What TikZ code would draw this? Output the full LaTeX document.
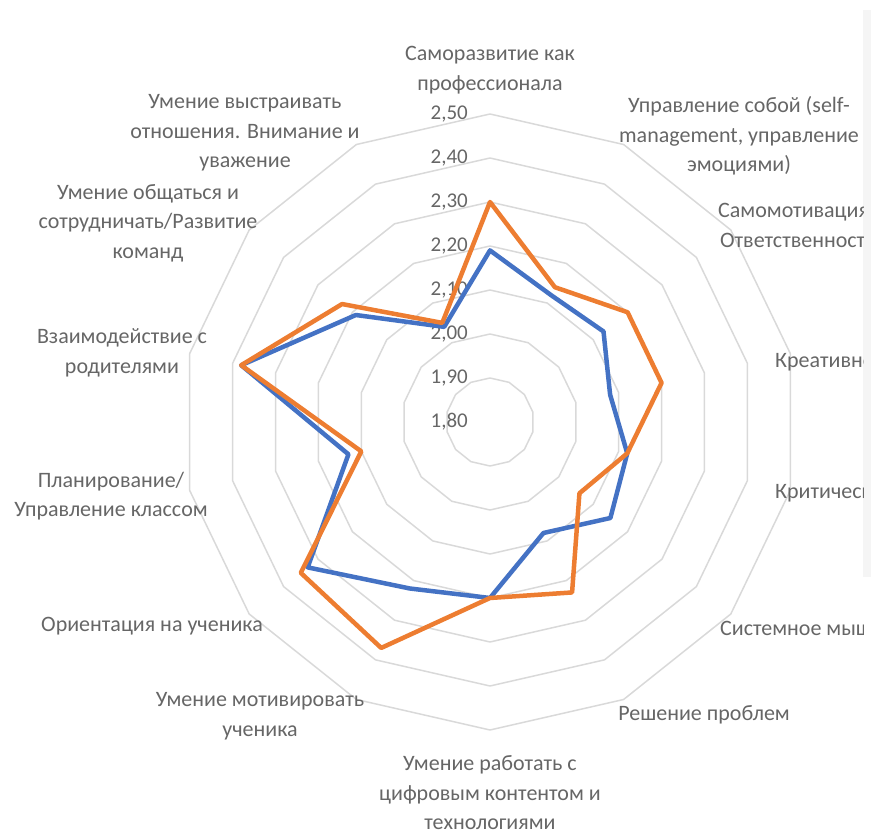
\documentclass[tikz,border=0pt]{standalone}
\usepackage{fontspec}
\setmainfont{Carlito}
\usetikzlibrary{positioning}
\definecolor{serA}{HTML}{4472C4}
\definecolor{serB}{HTML}{ED7D31}
\definecolor{gridgray}{HTML}{D9D9D9}
\definecolor{txtgray}{HTML}{666666}
\tikzset{
  ring/.style={gridgray,line width=1.5pt,line join=round},
  series/.style={line width=4.5pt,line join=round},
  catlabel/.style={text=txtgray,align=center,inner sep=0pt,font=\fontsize{22}{29.5}\selectfont},
  vallabel/.style={text=txtgray,anchor=east,inner sep=0pt,font=\fontsize{21}{25}\selectfont}
}

\begin{document}
\begin{tikzpicture}[x=1pt,y=1pt]
\useasboundingbox (-490,-410) rectangle (381,422);
\fill [gray!8] (373,412) rectangle (381,-155);
% rings 1,90 ... 2,50
\foreach \k in {1,...,7}
  \draw [ring] (90:{\k*44}) \foreach \i in {1,...,13} {-- ({90-\i*360/14}:{\k*44})} -- cycle;
% scale
\foreach \k/\t in {0/{1,80},1/{1,90},2/{2,00},3/{2,10},4/{2,20},5/{2,30},6/{2,40},7/{2,50}}
  \node [vallabel] (v\k) at (-22,{\k*44}) {\t};
% series
\draw [series,serA] (90:{(2.19-1.8)*440}) \foreach \v [count=\i] in {2.12,2.13,2.08,2.12,2.15,2.08,2.20,2.22,2.33,2.13,2.38,2.19,2.04} {-- ({90-\i*360/14}:{(\v-1.8)*440})} -- cycle;
\draw [series,serB] (90:{(2.30-1.8)*440}) \foreach \v [count=\i] in {2.14,2.20,2.20,2.12,2.06,2.23,2.20,2.37,2.35,2.10,2.38,2.23,2.05} {-- ({90-\i*360/14}:{(\v-1.8)*440})} -- cycle;
% categories
\begin{scope}
\clip (-490,-410) rectangle (373,422);
\node [catlabel] (c0) at (0,352) {Саморазвитие как\\профессионала};
\node [catlabel] (c1) at (249,286) {Управление собой (self-\\management, управление\\эмоциями)};
\node [catlabel,anchor=west] (c2) at (228,197) {Самомотивация/\\Ответственность};
\node [catlabel,anchor=west] (c3) at (285,60) {Креативность};
\node [catlabel,anchor=west] (c4) at (285,-71) {Критическое мышление};
\node [catlabel,anchor=west] (c5) at (230,-206) {Системное мышление};
\node [catlabel] (c6) at (214,-293) {Решение проблем};
\node [catlabel] (c7) at (0,-371) {Умение работать с\\цифровым контентом и\\технологиями};
\node [catlabel] (c8) at (-230,-294) {Умение мотивировать\\ученика};
\node [catlabel] (c9) at (-338,-204) {Ориентация на ученика};
\node [catlabel] (c10) at (-379,-74) {Планирование/\\Управление классом};
\node [catlabel] (c11) at (-368,69) {Взаимодействие с\\родителями};
\node [catlabel] (c12) at (-342,199) {Умение общаться и\\сотрудничать/Развитие\\команд};
\node [catlabel] (c13) at (-245,289) {Умение выстраивать\\отношения. Внимание и\\уважение};
\end{scope}
\end{tikzpicture}
\end{document}
